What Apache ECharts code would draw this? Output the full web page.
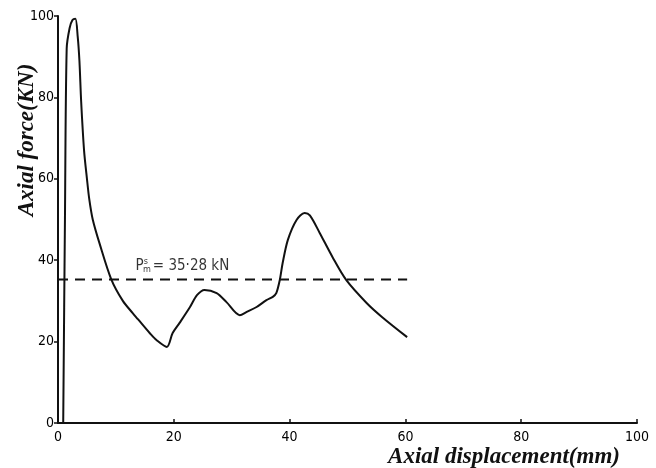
<!DOCTYPE html>
<html>
<head>
<meta charset="utf-8">
<script src="https://cdn.jsdelivr.net/npm/echarts@6/dist/echarts.min.js"></script>
<style>
	html, body { margin: 0; padding: 0; background: #fff; }
	#chart { width: 656px; height: 468px; }
</style>
</head>
<body>
<div id="chart"></div>
<script>
	// axial displacement (mm) vs axial force (kN)
	const displacement = [0.9, 1.2, 1.5, 2.0, 2.5, 3.0, 3.4, 3.7, 4.0, 4.5, 5.0, 5.4, 6.0, 7.2, 9.2, 11.2, 12.9, 13.8, 15.9, 17.0, 18.8,
		19.8, 21.0, 22.8, 24.0, 25.3, 27.4, 29.1, 31.4, 32.6, 34.3, 36.0, 37.1, 37.7, 38.3, 38.8, 39.7, 41.2, 42.6, 43.5,
		45.2, 47.4, 49.8, 53.3, 56.0, 60.3];
	const force = [0, 50, 92, 97, 99, 99.3, 95, 89, 79, 67, 60, 55, 50, 44, 35.3, 30, 27, 25.5, 22, 20.4, 18.7,
		22.1, 24.6, 28.5, 31.4, 32.7, 31.9, 29.7, 26.5, 27.3, 28.5, 30.2, 31, 31.9, 35.1, 39.3, 45, 49.9, 51.6, 51,
		46.7, 40.8, 35.1, 29.5, 26, 21.1];
	const meanForce = 35.28;
	const meanRange = [0, 60.3];
	const meanLabelAt = [13.4, 38.6];
	const xTicks = [0, 20, 40, 60, 80, 100];
	const yTicks = [0, 20, 40, 60, 80, 100];

	const tickFont = '"DejaVu Sans Condensed", "Liberation Sans Narrow", sans-serif';
	const titleFont = '"Liberation Serif", "DejaVu Serif", serif';

	const chart = echarts.init(document.getElementById("chart"));
	chart.setOption({
		animation: false,
		backgroundColor: "#fff",
		grid: { left: 58, right: 19, top: 16, bottom: 45 },
		xAxis: {
			type: "value",
			min: xTicks[0],
			max: xTicks[xTicks.length - 1],
			interval: xTicks[1] - xTicks[0],
			axisLine: { lineStyle: { color: "#111", width: 2 } },
			axisTick: { inside: true, length: 4, lineStyle: { color: "#111", width: 1.5 } },
			axisLabel: { color: "#000", fontFamily: tickFont, fontSize: 14, margin: 7 },
			splitLine: { show: false }
		},
		yAxis: {
			type: "value",
			min: yTicks[0],
			max: yTicks[yTicks.length - 1],
			interval: yTicks[1] - yTicks[0],
			axisLine: { show: true, lineStyle: { color: "#111", width: 2 } },
			axisTick: { show: true, length: 4, lineStyle: { color: "#111", width: 1.5 } },
			axisLabel: { color: "#000", fontFamily: tickFont, fontSize: 14, margin: 4 },
			splitLine: { show: false }
		},
		graphic: [
			{
				type: "text",
				x: 27, y: 140, rotation: Math.PI / 2,
				style: {
					text: "Axial force(KN)", fill: "#111",
					font: "italic bold 23px " + titleFont,
					align: "center", verticalAlign: "middle"
				}
			},
			{
				type: "text",
				x: 504, y: 457,
				style: {
					text: "Axial displacement(mm)", fill: "#111",
					font: "italic bold 23px " + titleFont,
					align: "center", verticalAlign: "middle"
				}
			}
		],
		series: [
			{
				type: "line",
				data: displacement.map((x, i) => [x, force[i]]),
				smooth: 0.3,
				showSymbol: false,
				lineStyle: { color: "#111", width: 2 }
			},
			{
				type: "line",
				data: meanRange.map(x => [x, meanForce]),
				showSymbol: false,
				lineStyle: { color: "#111", width: 2, type: [10, 7] }
			},
			{
				type: "scatter",
				data: [meanLabelAt],
				symbolSize: 0,
				label: {
					show: true,
					position: "right",
					distance: 0,
					color: "#000",
					formatter: "{p|P}{s|s}{m|m}{t|= 35·28 kN}",
					rich: {
						p: { fontFamily: tickFont, fontSize: 15, color: "#000" },
						s: { fontFamily: tickFont, fontSize: 9, color: "#000", verticalAlign: "top", padding: [0, 0, 8, 0] },
						m: { fontFamily: tickFont, fontSize: 9, color: "#000", verticalAlign: "bottom", padding: [6, 2, 0, -5] },
						t: { fontFamily: tickFont, fontSize: 15, color: "#000" }
					}
				}
			}
		]
	});
</script>
</body>
</html>
